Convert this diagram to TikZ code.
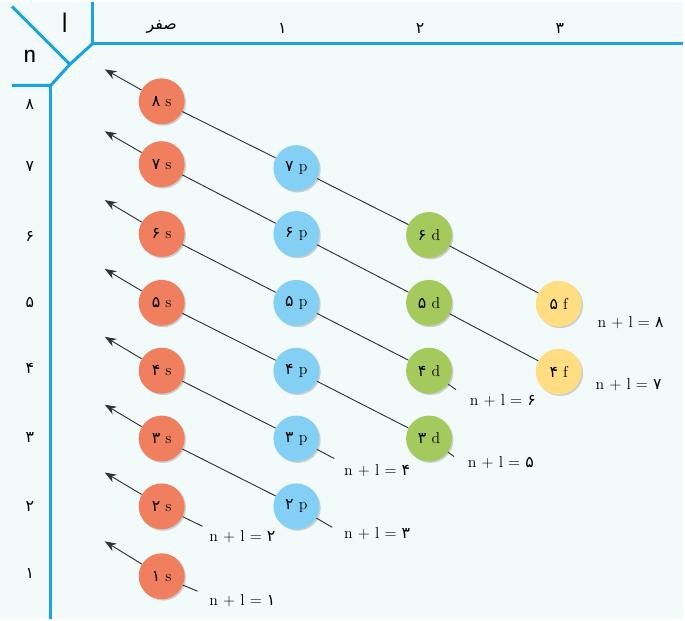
\documentclass[tikz,border=0pt]{standalone}
\usepackage{fontspec}
\usepackage{xcolor}
\usepackage{tikz}
\usetikzlibrary{arrows.meta, shadows}
\TeXXeTstate=1
\newfontfamily\arabicfont[Script=Arabic]{DejaVu Sans}
\newcommand{\pd}[1]{{\arabicfont #1}}
\definecolor{bgpale}{HTML}{F2FAFA}
\definecolor{gridblue}{HTML}{1BA3E0}
\definecolor{sorb}{HTML}{F07F5F}
\definecolor{porb}{HTML}{84D0F5}
\definecolor{dorb}{HTML}{A4C95C}
\definecolor{forb}{HTML}{FFDD82}

\begin{document}
\begin{tikzpicture}[x=0.03cm, y=-0.03cm,
    grid/.style={draw=gridblue, line width=2.6pt},
    orb/.style={circle, minimum size=1.38cm, inner sep=0pt, font=\fontsize{13.5}{16}\selectfont,
        drop shadow={opacity=0.35, shadow xshift=1.2pt, shadow yshift=-1.2pt}},
    sbox/.style={orb, fill=sorb},
    pbox/.style={orb, fill=porb},
    dbox/.style={orb, fill=dorb},
    fbox/.style={orb, fill=forb},
    rule/.style={draw=black!80, line width=0.8pt},
    lbl/.style={font=\fontsize{13.5}{16}\selectfont}]

        % background and table lines
        \fill[bgpale] (0,0) rectangle (685,619);
        \draw[grid] (93,0) -- (93,42) -- (685,42);
        \draw[grid] (12,5) -- (70,63);
        \draw[grid] (93,42) -- (70,63) -- (51,84) -- (12,84);
        \draw[grid] (51,84) -- (51,619);

        % headers
        \node[font=\sffamily\fontsize{24}{28}\selectfont] (lhead) at (65,21) {l};
        \node[font=\sffamily\fontsize{24}{28}\selectfont] (nhead) at (30,55) {n};
        \node[lbl] (l0) at (162,26) {\pd{\beginR صفر\endR}};
        \node[lbl] (l1) at (283,27) {\pd{۱}};
        \node[lbl] (l2) at (421,27) {\pd{۲}};
        \node[lbl] (l3) at (561,27) {\pd{۳}};

        \node[lbl] (n8) at (30,103) {\pd{۸}};
        \node[lbl] (n7) at (30,165) {\pd{۷}};
        \node[lbl] (n6) at (30,235) {\pd{۶}};
        \node[lbl] (n5) at (30,302) {\pd{۵}};
        \node[lbl] (n4) at (30,368) {\pd{۴}};
        \node[lbl] (n3) at (30,437) {\pd{۳}};
        \node[lbl] (n2) at (30,506) {\pd{۲}};
        \node[lbl] (n1) at (30,573) {\pd{۱}};

        % orbitals
        \node[sbox] (s8) at (162,100) {\pd{۸} s};
        \node[sbox] (s7) at (162,163) {\pd{۷} s};
        \node[sbox] (s6) at (162,233) {\pd{۶} s};
        \node[sbox] (s5) at (162,302) {\pd{۵} s};
        \node[sbox] (s4) at (162,370) {\pd{۴} s};
        \node[sbox] (s3) at (162,438) {\pd{۳} s};
        \node[sbox] (s2) at (162,506) {\pd{۲} s};
        \node[sbox] (s1) at (162,576) {\pd{۱} s};

        \node[pbox] (p7) at (297,167) {\pd{۷} p};
        \node[pbox] (p6) at (297,233) {\pd{۶} p};
        \node[pbox] (p5) at (297,302) {\pd{۵} p};
        \node[pbox] (p4) at (297,370) {\pd{۴} p};
        \node[pbox] (p3) at (297,438) {\pd{۳} p};
        \node[pbox] (p2) at (297,506) {\pd{۲} p};

        \node[dbox] (d6) at (430,234) {\pd{۶} d};
        \node[dbox] (d5) at (430,302) {\pd{۵} d};
        \node[dbox] (d4) at (430,370) {\pd{۴} d};
        \node[dbox] (d3) at (430,438) {\pd{۳} d};

        \node[fbox] (f5) at (560,303) {\pd{۵} f};
        \node[fbox] (f4) at (560,371) {\pd{۴} f};

        % arrow ends and tails
        \coordinate (a8) at (105,68);
        \coordinate (a7) at (105,130);
        \coordinate (a6) at (105,199);
        \coordinate (a5) at (105,268);
        \coordinate (a4) at (105,336);
        \coordinate (a3) at (105,404);
        \coordinate (a2) at (105,472);
        \coordinate (a1) at (105,541);
        \coordinate (t6) at (457,389);
        \coordinate (t5) at (455,456);
        \coordinate (t4) at (335,458);
        \coordinate (t3) at (333,527);
        \coordinate (t2) at (203,526);
        \coordinate (t1) at (198,591);

        % diagonals
        \draw[rule, -{Stealth[length=3.5mm, width=2.6mm]}] (s8) -- (a8);
        \draw[rule] (s8) -- (p7) -- (d6) -- (f5);
        \draw[rule, -{Stealth[length=3.5mm, width=2.6mm]}] (s7) -- (a7);
        \draw[rule] (s7) -- (p6) -- (d5) -- (f4);
        \draw[rule, -{Stealth[length=3.5mm, width=2.6mm]}] (s6) -- (a6);
        \draw[rule] (s6) -- (p5) -- (d4) -- (t6);
        \draw[rule, -{Stealth[length=3.5mm, width=2.6mm]}] (s5) -- (a5);
        \draw[rule] (s5) -- (p4) -- (d3) -- (t5);
        \draw[rule, -{Stealth[length=3.5mm, width=2.6mm]}] (s4) -- (a4);
        \draw[rule] (s4) -- (p3) -- (t4);
        \draw[rule, -{Stealth[length=3.5mm, width=2.6mm]}] (s3) -- (a3);
        \draw[rule] (s3) -- (p2) -- (t3);
        \draw[rule, -{Stealth[length=3.5mm, width=2.6mm]}] (s2) -- (a2);
        \draw[rule] (s2) -- (t2);
        \draw[rule, -{Stealth[length=3.5mm, width=2.6mm]}] (s1) -- (a1);
        \draw[rule] (s1) -- (t1);

        % sums
        \node[lbl] (sum8) at (632,322) {n + l = \pd{۸}};
        \node[lbl] (sum7) at (630,384) {n + l = \pd{۷}};
        \node[lbl] (sum6) at (504,400) {n + l = \pd{۶}};
        \node[lbl] (sum5) at (502,462) {n + l = \pd{۵}};
        \node[lbl] (sum4) at (378,470) {n + l = \pd{۴}};
        \node[lbl] (sum3) at (378,533) {n + l = \pd{۳}};
        \node[lbl] (sum2) at (243,536) {n + l = \pd{۲}};
        \node[lbl] (sum1) at (243,600) {n + l = \pd{۱}};
    \end{tikzpicture}
\end{document}
